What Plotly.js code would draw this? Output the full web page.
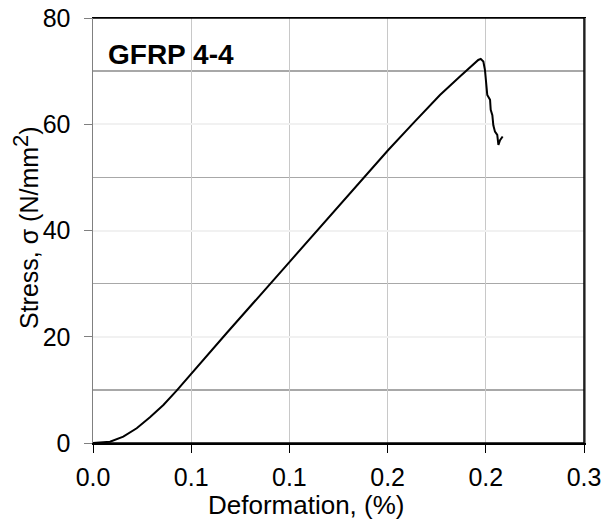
<!DOCTYPE html>
<html>
<head>
<meta charset="utf-8">
<script src="https://cdn.plot.ly/plotly-3.0.1.min.js"></script>
<style>html,body{margin:0;padding:0;background:#fff;}#chart{width:604px;height:524px;}</style>
</head>
<body>
<div id="chart"></div>
<script>
// Deformation (%) and stress (N/mm^2)
const deformation = [0, 0.0104, 0.0185, 0.0267, 0.0348, 0.0430, 0.0511, 0.0593, 0.0674, 0.0817, 0.1204, 0.1631, 0.1804, 0.1957, 0.2120, 0.2242, 0.2324, 0.2354, 0.2369, 0.2385, 0.2395, 0.2401, 0.2409, 0.2426, 0.2430, 0.2440, 0.2446, 0.2456, 0.2470, 0.2477, 0.2487, 0.2503];
const stress      = [0, 0.24, 1.19, 2.77, 4.84, 7.15, 9.85, 12.8, 15.7, 20.7, 34.2, 49.1, 55.15, 60.2, 65.5, 69.0, 71.3, 72.1, 72.3, 71.8, 70.2, 67.7, 65.5, 64.6, 62.7, 61.7, 59.8, 58.6, 58.0, 56.1, 57.0, 57.7];
const xTickVals = [0, 0.06, 0.12, 0.18, 0.24, 0.3];
const xTickText = ["0.0", "0.1", "0.1", "0.2", "0.2", "0.3"];
const yTickVals = [0, 20, 40, 60, 80];
const yTickText = ["0", "20", "40", "60", "80"];
const yMinorVals = [10, 30, 50, 70];
const specimen = "GFRP 4-4";
const xTitle = "Deformation, (%)";
const yTitle = "Stress, σ (N/mm<sup><span style='font-size:22px'>2</span></sup>)";

const font = "Arial, 'Liberation Sans', sans-serif";

const trace = {
  x: deformation, y: stress, type: "scatter", mode: "lines",
  line: {color: "#000", width: 2}, hoverinfo: "skip"
};

const layout = {
  width: 604, height: 524,
  margin: {l: 93, r: 20, t: 18, b: 81},
  paper_bgcolor: "#fff", plot_bgcolor: "#fff",
  showlegend: false,
  font: {family: font, color: "#000"},
  xaxis: {
    range: [0, 0.3], tickmode: "array", tickvals: xTickVals, ticktext: xTickText,
    ticks: "outside", ticklen: 8, tickcolor: "#000", tickwidth: 1, ticklabelstandoff: 3,
    showline: true, linecolor: "#000", linewidth: 1.5, mirror: true,
    showgrid: true, gridcolor: "#c8c8c8", gridwidth: 1, zeroline: false,
    tickfont: {family: font, size: 25, color: "#000"},
    automargin: false
  },
  yaxis: {
    range: [0, 80], tickmode: "array", tickvals: yTickVals, ticktext: yTickText,
    ticks: "outside", ticklen: 8, tickcolor: "#808080", tickwidth: 1, ticklabelstandoff: 8,
    showline: true, linecolor: "#808080", linewidth: 1.5, mirror: true,
    showgrid: true, gridcolor: "#f1f1f1", gridwidth: 2, zeroline: false,
    minor: {tickmode: "array", tickvals: yMinorVals, showgrid: true, gridcolor: "#a8a8a8", gridwidth: 1.5, ticks: ""},
    tickfont: {family: font, size: 25, color: "#000"},
    automargin: false
  },
  shapes: [
    {type: "line", xref: "paper", yref: "paper", x0: 1, x1: 1, y0: 0, y1: 1, line: {color: "#000", width: 1.5}},
    {type: "line", xref: "paper", yref: "paper", x0: 0, x1: 1, y0: 1, y1: 1, line: {color: "#000", width: 1.5}},
    {type: "line", xref: "paper", yref: "paper", x0: 0, x1: 1, y0: 0, y1: 0, line: {color: "#000", width: 1.5}}
  ],
  annotations: [
    {
      text: "<b>" + specimen + "</b>", xref: "paper", yref: "paper", x: 0.027, y: 0.915,
      xanchor: "left", yanchor: "middle", showarrow: false,
      font: {family: font, size: 28, color: "#000"}
    },
    {
      text: xTitle, xref: "paper", yref: "paper", x: 0.435, y: -0.146,
      xanchor: "center", yanchor: "middle", showarrow: false,
      font: {family: font, size: 26, color: "#000"}
    },
    {
      text: yTitle, xref: "paper", yref: "paper", x: -0.1375, y: 0.507, textangle: -90,
      xanchor: "center", yanchor: "middle", showarrow: false,
      font: {family: font, size: 25, color: "#000"}
    }
  ]
};

Plotly.newPlot("chart", [trace], layout, {staticPlot: true, displayModeBar: false});
</script>
</body>
</html>
